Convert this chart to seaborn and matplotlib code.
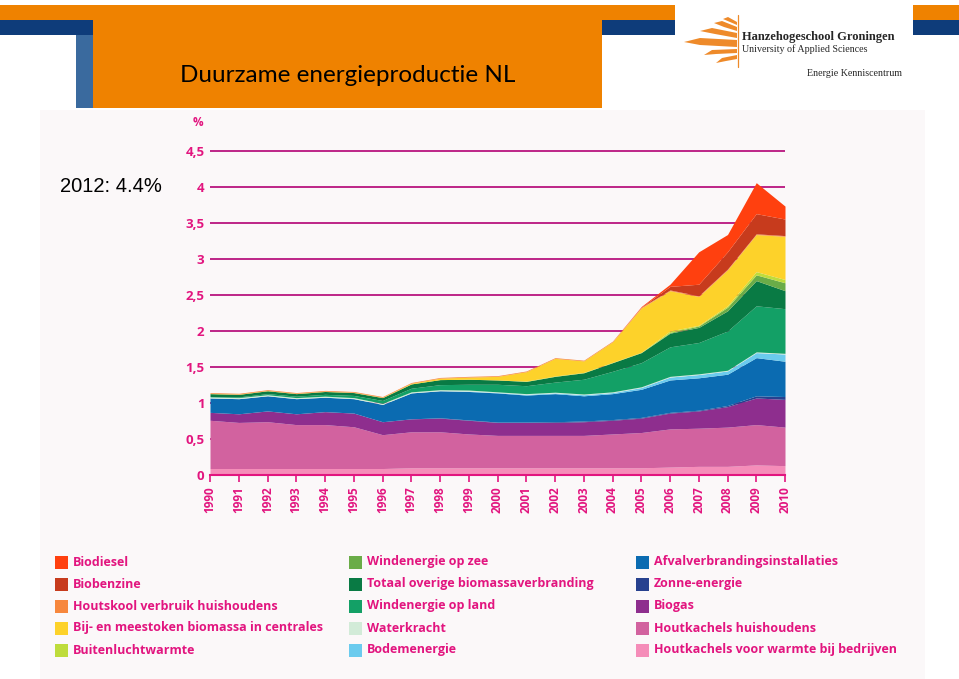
import matplotlib
matplotlib.use("Agg")
import matplotlib.pyplot as plt
import seaborn as sns
import pandas as pd
from matplotlib.patches import Rectangle, Polygon

# ---------------- data ----------------
years = list(range(1990, 2011))

houtkachels_bedrijven = [0.09, 0.09, 0.09, 0.09, 0.09, 0.09, 0.09, 0.10, 0.10, 0.10, 0.10,
                         0.10, 0.10, 0.10, 0.10, 0.10, 0.11, 0.12, 0.12, 0.14, 0.13]
houtkachels_huishoudens = [0.67, 0.64, 0.65, 0.61, 0.61, 0.58, 0.47, 0.50, 0.50, 0.47, 0.45,
                           0.45, 0.45, 0.45, 0.47, 0.49, 0.53, 0.53, 0.545, 0.56, 0.535]
biogas = [0.11, 0.12, 0.15, 0.15, 0.18, 0.19, 0.18, 0.18, 0.19, 0.19, 0.18,
          0.18, 0.18, 0.19, 0.19, 0.20, 0.22, 0.24, 0.285, 0.37, 0.385]
zonne_energie = [0.0, 0.0, 0.0, 0.0, 0.0, 0.0, 0.0, 0.0, 0.005, 0.005, 0.005,
                 0.005, 0.01, 0.01, 0.01, 0.01, 0.01, 0.01, 0.015, 0.03, 0.04]
afvalverbranding = [0.20, 0.21, 0.21, 0.21, 0.20, 0.20, 0.24, 0.36, 0.375, 0.395, 0.405,
                    0.375, 0.39, 0.35, 0.36, 0.39, 0.45, 0.45, 0.435, 0.53, 0.49]
bodemenergie = [0.0, 0.0, 0.0, 0.0, 0.0, 0.0, 0.0, 0.0, 0.0, 0.005, 0.005,
                0.01, 0.01, 0.015, 0.015, 0.025, 0.04, 0.045, 0.045, 0.07, 0.10]
waterkracht = [0.015, 0.015, 0.015, 0.015, 0.015, 0.015, 0.015, 0.015, 0.015, 0.015, 0.01,
               0.01, 0.01, 0.01, 0.01, 0.01, 0.01, 0.01, 0.01, 0.01, 0.01]
wind_land = [0.005, 0.01, 0.015, 0.02, 0.025, 0.03, 0.04, 0.05, 0.07, 0.08, 0.105,
             0.11, 0.14, 0.205, 0.285, 0.335, 0.41, 0.435, 0.545, 0.64, 0.62]
overige_biomassa = [0.04, 0.035, 0.04, 0.035, 0.04, 0.04, 0.04, 0.06, 0.07, 0.07, 0.06,
                    0.06, 0.08, 0.09, 0.12, 0.14, 0.19, 0.21, 0.28, 0.35, 0.25]
wind_zee = [0.0, 0.0, 0.0, 0.0, 0.0, 0.0, 0.0, 0.0, 0.0, 0.0, 0.0,
            0.0, 0.0, 0.0, 0.0, 0.0, 0.01, 0.02, 0.05, 0.08, 0.11]
buitenluchtwarmte = [0.0, 0.0, 0.0, 0.0, 0.0, 0.0, 0.0, 0.0, 0.0, 0.0, 0.0,
                     0.005, 0.005, 0.005, 0.005, 0.005, 0.02, 0.01, 0.02, 0.045, 0.045]
meestoken = [0.005, 0.005, 0.005, 0.005, 0.005, 0.005, 0.005, 0.01, 0.02, 0.03, 0.05,
             0.13, 0.245, 0.16, 0.285, 0.615, 0.56, 0.40, 0.50, 0.515, 0.60]
houtskool = [0.01] * 21
biobenzine = [0.0, 0.0, 0.0, 0.0, 0.0, 0.0, 0.0, 0.0, 0.0, 0.0, 0.0,
              0.0, 0.0, 0.0, 0.0, 0.0, 0.05, 0.16, 0.24, 0.28, 0.23]
biodiesel = [0.0, 0.0, 0.0, 0.0, 0.0, 0.0, 0.0, 0.0, 0.0, 0.0, 0.0,
             0.0, 0.0, 0.0, 0.0, 0.01, 0.03, 0.45, 0.24, 0.43, 0.18]

# bottom -> top
series_names = ["Houtkachels voor warmte bij bedrijven", "Houtkachels huishoudens", "Biogas",
                "Zonne-energie", "Afvalverbrandingsinstallaties", "Bodemenergie", "Waterkracht",
                "Windenergie op land", "Totaal overige biomassaverbranding", "Windenergie op zee",
                "Buitenluchtwarmte", "Bij- en meestoken biomassa in centrales",
                "Houtskool verbruik huishoudens", "Biobenzine", "Biodiesel"]
series_values = [houtkachels_bedrijven, houtkachels_huishoudens, biogas, zonne_energie,
                 afvalverbranding, bodemenergie, waterkracht, wind_land, overige_biomassa,
                 wind_zee, buitenluchtwarmte, meestoken, houtskool, biobenzine, biodiesel]
series_colors = ["#F58DB9", "#D2629F", "#8E2E8E", "#27418F", "#0B6BB1", "#6BCBEE", "#D2EBD8",
                 "#13A066", "#097A44", "#6AAC48", "#BEDC3C", "#FDD22A", "#F7873D",
                 "#C73B1D", "#FF400F"]

yticks = [0, 0.5, 1, 1.5, 2, 2.5, 3, 3.5, 4, 4.5]
ytick_labels = ["0", "0,5", "1", "1,5", "2", "2,5", "3", "3,5", "4", "4,5"]

# legend layout (columns of names as in the reference)
legend_columns = [
    ["Biodiesel", "Biobenzine", "Houtskool verbruik huishoudens",
     "Bij- en meestoken biomassa in centrales", "Buitenluchtwarmte"],
    ["Windenergie op zee", "Totaal overige biomassaverbranding", "Windenergie op land",
     "Waterkracht", "Bodemenergie"],
    ["Afvalverbrandingsinstallaties", "Zonne-energie", "Biogas",
     "Houtkachels huishoudens", "Houtkachels voor warmte bij bedrijven"],
]

df = pd.DataFrame(dict(zip(series_names, series_values)), index=years)

# ---------------- style ----------------
sns.set_theme(style="white")
plt.rcParams['font.family'] = ['Open Sans', 'DejaVu Sans']

W, H = 959, 679
fig = plt.figure(figsize=(W / 100, H / 100), dpi=100)
fig.patch.set_facecolor("white")


def rect(x0, y0, x1, y1, color, z=0):
    fig.patches.append(Rectangle((x0 / W, 1 - y1 / H), (x1 - x0) / W, (y1 - y0) / H,
                                 transform=fig.transFigure, facecolor=color,
                                 edgecolor="none", zorder=z))


def poly(pts, color, z=2):
    fig.patches.append(Polygon([(x / W, 1 - y / H) for x, y in pts], closed=True,
                               transform=fig.transFigure, facecolor=color,
                               edgecolor="none", zorder=z))


# slide header
ORANGE = "#EF8200"
NAVY = "#0E3C7A"
rect(0, 5, 675, 20, ORANGE)
rect(913, 5, 959, 20, ORANGE)
rect(0, 20, 93, 35, NAVY)
rect(602, 20, 675, 35, NAVY)
rect(913, 20, 959, 35, NAVY)
rect(76, 35, 93, 108, "#3A6A9E")
rect(93, 20, 602, 108, ORANGE, z=1)
# chart background panel
rect(40, 110, 925, 679, "#FBF8F9", z=-5)

fig.text(348 / W, 1 - 75 / H, "Duurzame energieproductie NL", ha="center", va="center",
         fontsize=17.5, color="black", family=["Lato", "DejaVu Sans"], zorder=3)

# logo
LOGO = "#EE8A2A"
fig.lines.append(plt.Line2D([738 / W, 738 / W], [1 - 15 / H, 1 - 67 / H],
                            transform=fig.transFigure, color=LOGO, lw=0.9))
poly([(737, 40), (700, 38), (684, 42), (700, 45), (737, 47)], LOGO)
poly([(737, 33), (712, 28), (700, 31), (715, 34), (737, 38)], LOGO)
poly([(737, 27), (722, 21), (714, 23), (724, 27), (737, 31)], LOGO)
poly([(737, 22), (728, 17), (723, 19), (737, 25)], LOGO)
poly([(737, 49), (712, 50), (704, 55), (716, 54), (737, 53)], LOGO)
poly([(737, 55), (722, 58), (716, 63), (726, 61), (737, 59)], LOGO)
fig.text(742 / W, 1 - 37 / H, "Hanzehogeschool Groningen", ha="left", va="center",
         fontsize=9, fontweight="bold", family=["Liberation Serif", "DejaVu Serif"])
fig.text(742 / W, 1 - 49 / H, "University of Applied Sciences", ha="left", va="center",
         fontsize=7.2, family=["Liberation Serif", "DejaVu Serif"])
fig.text(902 / W, 1 - 73 / H, "Energie Kenniscentrum", ha="right", va="center",
         fontsize=7.2, family=["Liberation Serif", "DejaVu Serif"])

fig.text(60 / W, 1 - 187 / H, "2012: 4.4%", ha="left", va="center", fontsize=14.5,
         family=["Liberation Sans", "DejaVu Sans"], color="black")

# ---------------- chart ----------------
MAG = "#E2157F"
GRID = "#B8147F"
YTOP = 4.55
ax = fig.add_axes([210 / W, 1 - 475 / H, 575 / W, (324 / 4.5 * YTOP) / H])
ax.set_zorder(4)
ax.patch.set_alpha(0)
for v in yticks[1:]:
    ax.axhline(v, color=GRID, lw=1.3, zorder=0)

ax.stackplot(df.index, *[df[c].values for c in df.columns], colors=series_colors,
             linewidth=0, zorder=2)
ax.set_xlim(1990, 2010)
ax.set_ylim(0, YTOP)
sns.despine(ax=ax, left=True, top=True, right=True)
ax.spines["bottom"].set_color(MAG)
ax.spines["bottom"].set_linewidth(1.5)
ax.spines["bottom"].set_zorder(5)
ax.set_xticks(years)
ax.set_xticklabels([str(y) for y in years], rotation=90, fontsize=8.5, fontweight="bold",
                   color=MAG)
ax.tick_params(axis="x", direction="out", length=5, width=1.2, color=MAG, pad=3,
               bottom=True)
ax.set_yticks(yticks)
ax.set_yticklabels(ytick_labels, fontsize=9.5, fontweight="bold", color=MAG)
ax.tick_params(axis="y", length=0, pad=4)
ax.grid(False)
ax.text(-0.021, 4.9, "%", transform=ax.get_yaxis_transform(), ha="center", va="center",
        fontsize=8.5, fontweight="bold", color=MAG, clip_on=False)

# ---------------- legend ----------------
color_of = dict(zip(series_names, series_colors))
col_x = [55, 349, 636]
row_y = [562, 584, 606, 628, 650]
for cx, names in zip(col_x, legend_columns):
    for ry, name in zip(row_y, names):
        rect(cx, ry - 6.5, cx + 13, ry + 6.5, color_of[name], z=2)
        fig.text((cx + 18) / W, 1 - ry / H, name, ha="left", va="center", fontsize=9,
                 fontweight="bold", color=MAG)

fig.savefig("out.png", dpi=100)
